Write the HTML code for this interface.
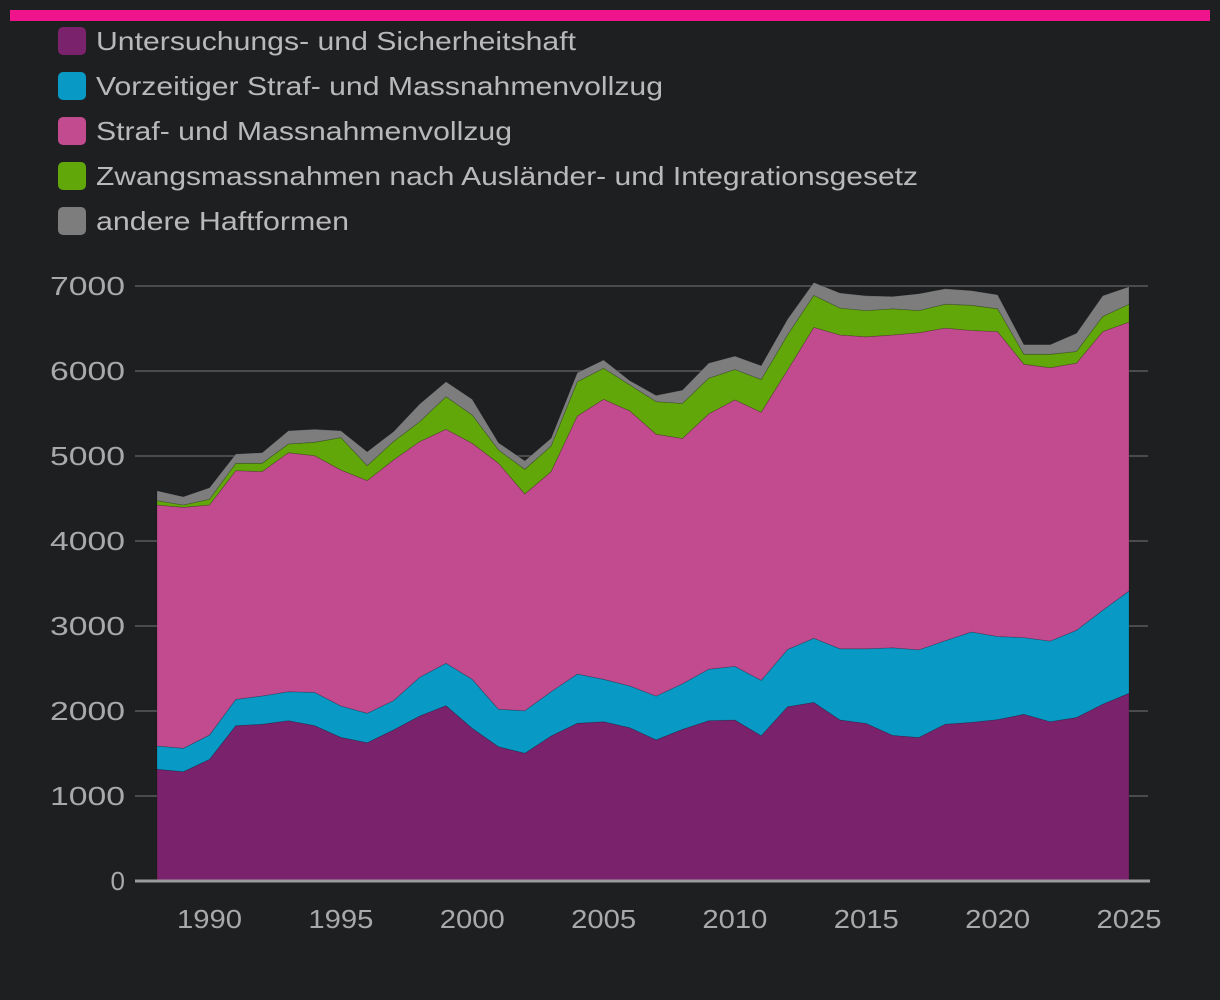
<!DOCTYPE html>
<html><head><meta charset="utf-8"><style>
html,body{margin:0;padding:0;background:#1e1f21;}
svg{display:block;font-family:"Liberation Sans",sans-serif;}
</style></head><body>
<svg id="c" width="1220" height="1000" viewBox="0 0 1220 1000">
<rect x="10" y="10" width="1200" height="11" fill="#f0148c"/>
<g id="legend"></g>
<g id="grid"></g>
<g id="areas"></g>
<g id="axes"></g>
</svg>
<script>
const years = [];
for (let y = 1988; y <= 2025; y++) years.push(y);
const untersuchung = [1314,1286,1431,1828,1843,1886,1828,1690,1627,1776,1941,2063,1796,1580,1502,1706,1855,1874,1804,1660,1783,1886,1894,1709,2051,2101,1894,1853,1713,1688,1845,1866,1899,1961,1874,1923,2080,2208];
const vorzeitig = [274,275,287,309,333,341,391,369,346,345,455,498,577,440,502,521,580,499,490,515,537,606,631,651,672,754,838,879,1031,1031,981,1064,977,903,948,1027,1105,1204];
const vollzug = [2836,2835,2706,2691,2640,2812,2785,2776,2737,2832,2773,2753,2776,2894,2549,2589,3036,3294,3235,3081,2886,3003,3135,3155,3287,3658,3691,3670,3679,3732,3679,3546,3588,3216,3217,3143,3279,3163];
const zwang = [50,28,66,86,98,102,157,381,176,216,235,384,333,157,290,302,403,365,306,384,412,420,358,384,413,376,317,309,309,260,281,297,268,116,157,136,177,211];
const andere = [118,97,137,110,125,157,153,82,165,117,208,176,185,86,102,90,106,97,51,73,157,178,157,165,185,152,178,174,144,198,181,173,165,115,115,214,244,206];
const series = [untersuchung, vorzeitig, vollzug, zwang, andere];
const seriesNames = ["Untersuchungs- und Sicherheitshaft","Vorzeitiger Straf- und Massnahmenvollzug","Straf- und Massnahmenvollzug","Zwangsmassnahmen nach Ausländer- und Integrationsgesetz","andere Haftformen"];
const seriesKeys = ["untersuchung","vorzeitig","vollzug","zwang","andere"];
const legendWidths = [480,567,416,822,253];
const colors = ["#7b226d","#089ac4","#c24b8f","#62a70a","#7d7d7d"];
const yTicks = [0,1000,2000,3000,4000,5000,6000,7000];
const xTicks = [1990,1995,2000,2005,2010,2015,2020,2025];

const NS = "http://www.w3.org/2000/svg";
const xS = yr => 157 + (yr - 1988) * (1129 - 157) / 37;
const yS = v => 881 - v * 0.085;
function mk(tag, attrs, parent){ const e=document.createElementNS(NS,tag); for(const k in attrs) e.setAttribute(k,attrs[k]); parent.appendChild(e); return e; }

const legend = document.getElementById('legend');
seriesNames.forEach((n,i)=>{
  const cy = 41 + i*45;
  const r = mk('rect',{x:58,y:cy-14,width:28,height:28,rx:5,fill:colors[i]},legend);
  
  
  const t = mk('text',{x:96,y:cy+9,fill:'#b9b9bb','font-size':26,textLength:legendWidths[i],lengthAdjust:'spacingAndGlyphs'},legend);
  t.textContent = n;
  
  
});

const grid = document.getElementById('grid');
const axes = document.getElementById('axes');
yTicks.forEach(v=>{
  if (v>0){
    const l = mk('line',{x1:135,x2:1148,y1:yS(v),y2:yS(v),stroke:'#5a5a5e','stroke-width':1.5},grid);
    
    
  }
  const attrs = {x:125,y:yS(v)+9,fill:'#a9a9ab','font-size':26,'text-anchor':'end'};
  if (v>0){ attrs.textLength = 75; attrs.lengthAdjust='spacingAndGlyphs'; }
  const t = mk('text',attrs,axes);
  t.textContent = v;
  
  
});
xTicks.forEach(yr=>{
  const t = mk('text',{x:xS(yr),y:928,fill:'#a9a9ab','font-size':26,'text-anchor':'middle',textLength:65,lengthAdjust:'spacingAndGlyphs'},axes);
  t.textContent = yr;
  
  
});

const areas = document.getElementById('areas');
let base = years.map(()=>0);
series.forEach((s,i)=>{
  const top = base.map((b,j)=>b+s[j]);
  let d = 'M' + years.map((yr,j)=>xS(yr).toFixed(1)+','+yS(top[j]).toFixed(1)).join(' L');
  for (let j=years.length-1;j>=0;j--) d += ' L'+xS(years[j]).toFixed(1)+','+yS(base[j]).toFixed(1);
  d += 'Z';
  const p = mk('path',{d:d,fill:colors[i],stroke:'#00000033','stroke-width':0.8},areas);
  
  
  base = top;
});
const ax = mk('line',{x1:135,x2:1150,y1:881,y2:881,stroke:'#9a9a9c','stroke-width':3},axes);


</script>
</body></html>
